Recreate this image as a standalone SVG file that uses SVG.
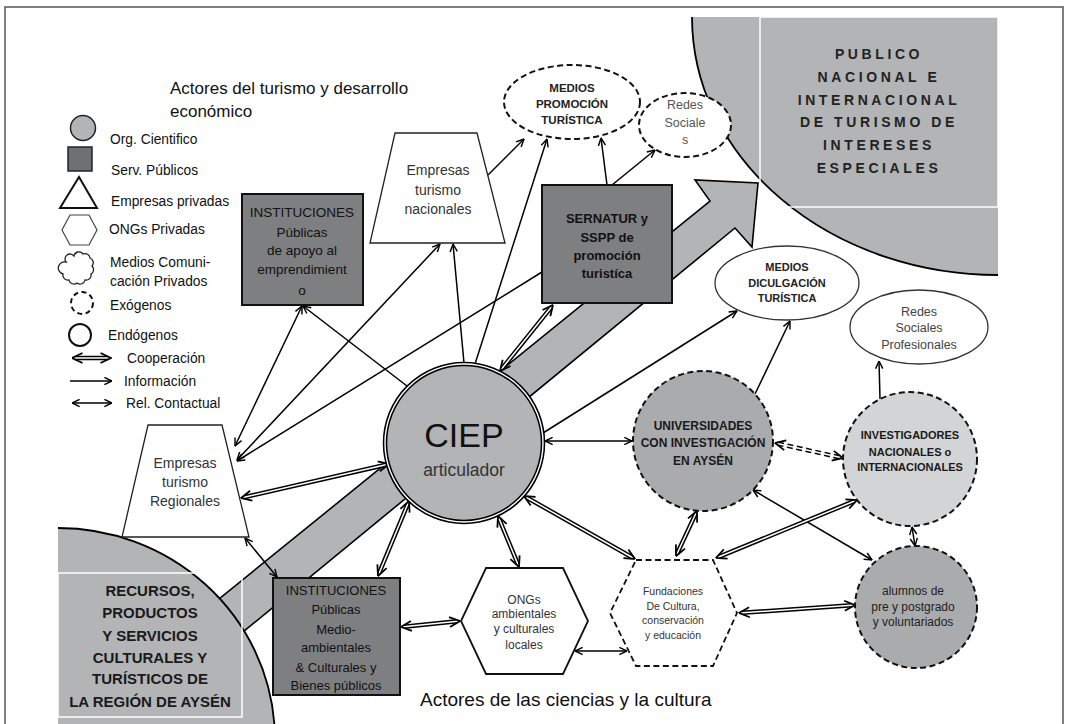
<svg xmlns="http://www.w3.org/2000/svg" width="1065" height="724" viewBox="0 0 1065 724">
<defs>
<style>
text{font-family:"Liberation Sans",Arial,sans-serif;}
.lg{font-size:13.8px;fill:#111}
.ttl{font-size:17px;fill:#111}
.b{font-weight:bold}
.c{text-anchor:middle}
.g1{fill:#b2b4b6}
.dkbox{fill:#7e7f81;stroke:#111;stroke-width:2}
.ln{stroke:#000;stroke-width:1.5;fill:none}
.dk{stroke:#000;stroke-width:4.5;fill:none}
.dw{stroke:#fff;stroke-width:1.5;fill:none}
.dash{stroke-dasharray:6 3.5}
.nt{font-size:14px;fill:#333}
</style>
<marker id="ae" viewBox="0 0 10 10" refX="9.5" refY="5" markerWidth="9" markerHeight="9" markerUnits="userSpaceOnUse" orient="auto"><path d="M1,1 L9.5,5 L1,9" fill="none" stroke="#000" stroke-width="1.6"/></marker>
<marker id="as" viewBox="0 0 10 10" refX="0.5" refY="5" markerWidth="9" markerHeight="9" markerUnits="userSpaceOnUse" orient="auto"><path d="M9,1 L0.5,5 L9,9" fill="none" stroke="#000" stroke-width="1.6"/></marker>
<marker id="de" viewBox="0 0 12 12" refX="11.5" refY="6" markerWidth="12" markerHeight="12" markerUnits="userSpaceOnUse" orient="auto"><path d="M1,1 L11.5,6 L1,11" fill="none" stroke="#000" stroke-width="1.8"/></marker>
<marker id="ds" viewBox="0 0 12 12" refX="0.5" refY="6" markerWidth="12" markerHeight="12" markerUnits="userSpaceOnUse" orient="auto"><path d="M11,1 L0.5,6 L11,11" fill="none" stroke="#000" stroke-width="1.8"/></marker>
</defs>

<rect x="0" y="0" width="1065" height="724" fill="#fff"/>
<path d="M5,730 V7 H1063 V730" fill="none" stroke="#555" stroke-width="1.5"/>

<!-- top-right audience quarter -->
<g id="publico">
<path d="M692,17 A306 258 0 0 0 998,275 L998,17 Z" class="g1"/>
<path d="M692,17 A306 258 0 0 0 998,275" fill="none" stroke="#000" stroke-width="1.8"/>
<rect x="760" y="17" width="238" height="190" fill="none" stroke="#fff" stroke-width="1.5"/>
<g class="b c" font-size="14" letter-spacing="3.6" fill="#222">
<text x="879" y="59">PUBLICO</text>
<text x="879" y="82">NACIONAL E</text>
<text x="879" y="105">INTERNACIONAL</text>
<text x="879" y="127">DE TURISMO DE</text>
<text x="879" y="150">INTERESES</text>
<text x="879" y="173">ESPECIALES</text>
</g>
</g>

<!-- big arrow -->
<g id="flecha">
<polygon points="40,744 710,201 695,180 758,183 752,247 735,228 70,774" class="g1" stroke="#000" stroke-width="1.6"/>
</g>

<!-- bottom-left resources quarter -->
<g id="recursos">
<path d="M58,528 A217 212 0 0 1 274.4,724 L58,724 Z" class="g1"/>
<path d="M58,528 A217 212 0 0 1 274.4,724" fill="none" stroke="#000" stroke-width="1.8"/>
<rect x="58" y="573" width="184" height="144" fill="none" stroke="#fff" stroke-width="1.5"/>
<g class="b c" font-size="15" fill="#1a1a1a">
<text x="150" y="596">RECURSOS,</text>
<text x="150" y="618">PRODUCTOS</text>
<text x="150" y="641">Y SERVICIOS</text>
<text x="150" y="663">CULTURALES Y</text>
<text x="150" y="684">TURÍSTICOS DE</text>
<text x="150" y="707">LA REGIÓN DE AYSÉN</text>
</g>
</g>

<!-- titles -->
<text class="ttl" x="170" y="94">Actores del turismo y desarrollo</text>
<text class="ttl" x="170" y="117">económico</text>
<text x="420" y="706" font-size="19" fill="#111">Actores de las ciencias y la cultura</text>

<!-- legend -->
<g id="leyenda">
<circle cx="83" cy="128" r="12.5" class="g1" stroke="#222" stroke-width="1.5"/>
<rect x="68" y="147" width="24" height="24" fill="#6f7072" stroke="#222" stroke-width="1.5"/>
<polygon points="60,208 97,208 79,177" fill="#fff" stroke="#111" stroke-width="2"/>
<polygon points="70,215 89,215 97,230 89,245 70,245 62,230" fill="#fff" stroke="#444" stroke-width="1.2"/>
<path d="M66,262 a5,5 0 0 1 8,-6 a5,5 0 0 1 9,-2 a5,5 0 0 1 7,4 a5,5 0 0 1 2,8 a5,5 0 0 1 -1,8 a5,5 0 0 1 -6,6 a5,5 0 0 1 -8,3 a5,5 0 0 1 -8,-3 a5,5 0 0 1 -6,-6 a5,5 0 0 1 3,-12 z" fill="#fff" stroke="#222" stroke-width="1.3"/>
<circle cx="82" cy="303" r="11" fill="#fff" stroke="#111" stroke-width="2" stroke-dasharray="5 3.5"/>
<circle cx="80" cy="335" r="11" fill="#fff" stroke="#111" stroke-width="2"/>
<path class="dk" d="M75,358 L108,358"/><path class="dw" d="M72,358 L111,358" marker-start="url(#ds)" marker-end="url(#de)"/>
<path class="ln" d="M70,381 L112,381" marker-end="url(#ae)"/>
<path class="ln" d="M72,403 L112,403" marker-start="url(#as)" marker-end="url(#ae)"/>
<text class="lg" x="110" y="144">Org. Cientifico</text>
<text class="lg" x="111" y="175">Serv. Públicos</text>
<text class="lg" x="111" y="206">Empresas privadas</text>
<text class="lg" x="109" y="234">ONGs Privadas</text>
<text class="lg" x="110" y="267">Medios Comuni-</text>
<text class="lg" x="110" y="286">cación Privados</text>
<text class="lg" x="110" y="310">Exógenos</text>
<text class="lg" x="108" y="340">Endógenos</text>
<text class="lg" x="127" y="363">Cooperación</text>
<text class="lg" x="124" y="386">Información</text>
<text class="lg" x="126" y="408">Rel. Contactual</text>
</g>

<!-- connectors -->
<g id="conectores">
<!-- single information arrows -->
<path class="ln" d="M488,175 L524,139" marker-end="url(#ae)"/>
<path class="ln" d="M475,364 L547,139" marker-end="url(#ae)"/>
<path class="ln" d="M607,185 L601,138" marker-end="url(#ae)"/>
<path class="ln" d="M612,185 L655,150" marker-end="url(#ae)"/>
<path class="ln" d="M464,363 L453,244" marker-end="url(#ae)"/>
<path class="ln" d="M542,272 L237,461" marker-end="url(#ae)"/>
<path class="ln" d="M407,386 L303,306" marker-end="url(#ae)"/>
<path class="ln" d="M543,433 L737,311" marker-end="url(#ae)"/>
<path class="ln" d="M755,394 L790,321" marker-end="url(#ae)"/>
<path class="ln" d="M880,399 L879,361" marker-end="url(#ae)"/>
<!-- contact (double headed single) -->
<path class="ln" d="M237,460 L440,244" marker-start="url(#as)" marker-end="url(#ae)"/>
<path class="ln" d="M235,446 L302,306" marker-start="url(#as)" marker-end="url(#ae)"/>
<path class="ln" d="M245,538 L277,577" marker-start="url(#as)" marker-end="url(#ae)"/>
<path class="ln" d="M575,651 L627,651" marker-start="url(#as)" marker-end="url(#ae)"/>
<path class="ln" d="M545,441 L632,441" marker-start="url(#as)" marker-end="url(#ae)"/>
<path class="ln" d="M753,490 L872,560" marker-start="url(#as)" marker-end="url(#ae)"/>
<path class="ln" d="M912,527 L915,546" marker-start="url(#as)" marker-end="url(#ae)"/>
<!-- cooperation double lines -->
<path class="dk" d="M386.1,464.7 L243.9,497.3"/><path class="dw" d="M389,464 L241,498" marker-start="url(#ds)" marker-end="url(#de)"/>
<path class="dk" d="M501.9,368.7 L551.1,307.3"/><path class="dw" d="M500,371 L553,305" marker-start="url(#ds)" marker-end="url(#de)"/>
<path class="dk" d="M407.9,503.8 L379.1,573.2"/><path class="dw" d="M409,501 L378,576" marker-start="url(#ds)" marker-end="url(#de)"/>
<path class="dk" d="M404,626.7 L457,621.3"/><path class="dw" d="M401,627 L460,621" marker-start="url(#ds)" marker-end="url(#de)"/>
<path class="dk" d="M499.1,518.8 L517.9,564.2"/><path class="dw" d="M498,516 L519,567" marker-start="url(#ds)" marker-end="url(#de)"/>
<path class="dk" d="M526.6,497.5 L632.4,557.5"/><path class="dw" d="M524,496 L635,559" marker-start="url(#ds)" marker-end="url(#de)"/>
<path class="dk" d="M695.7,513.7 L677.3,553.3"/><path class="dw" d="M697,511 L676,556" marker-start="url(#ds)" marker-end="url(#de)"/>
<path class="dk" d="M854.2,501.1 L718.8,556.9"/><path class="dw" d="M857,500 L716,558" marker-start="url(#ds)" marker-end="url(#de)"/>
<path class="dk" d="M742,612.8 L852,605.2"/><path class="dw" d="M739,613 L855,605" marker-start="url(#ds)" marker-end="url(#de)"/>
<path class="dk dash" d="M777.9,443.6 L840.1,457.4"/><path class="dw" d="M775,443 L843,458" marker-start="url(#ds)" marker-end="url(#de)"/>
</g>

<!-- nodes -->
<g id="empresas-nacionales">
<polygon points="395,133 477,133 505,243 370,243" fill="#fff" stroke="#222" stroke-width="1.3"/>
<text class="nt c" x="438" y="175">Empresas</text>
<text class="nt c" x="438" y="195">turismo</text>
<text class="nt c" x="438" y="214">nacionales</text>
</g>

<g id="instituciones-apoyo">
<rect x="242" y="194" width="121" height="111" class="dkbox"/>
<g class="c" font-size="13.5" fill="#111">
<text x="302" y="217">INSTITUCIONES</text>
<text x="302" y="237">Públicas</text>
<text x="302" y="255">de apoyo al</text>
<text x="302" y="274">emprendimient</text>
<text x="302" y="295">o</text>
</g>
</g>

<g id="sernatur">
<rect x="542" y="185" width="130" height="118" class="dkbox"/>
<g class="c b" font-size="13" fill="#111">
<text x="607" y="223">SERNATUR y</text>
<text x="607" y="242">SSPP de</text>
<text x="607" y="260">promoción</text>
<text x="607" y="278">turistíca</text>
</g>
</g>

<g id="medios-promocion">
<ellipse cx="572" cy="102" rx="68" ry="37" fill="#fff" stroke="#111" stroke-width="2" class="dash"/>
<g class="c b" font-size="11.5" fill="#222">
<text x="572" y="92">MEDIOS</text>
<text x="572" y="108">PROMOCIÓN</text>
<text x="572" y="124">TURÍSTICA</text>
</g>
</g>

<g id="redes-sociales">
<ellipse cx="685" cy="125" rx="46" ry="32" fill="#fff" stroke="#111" stroke-width="2" class="dash"/>
<g class="c" font-size="12.5" fill="#555">
<text x="685" y="109">Redes</text>
<text x="685" y="127">Sociale</text>
<text x="685" y="144">s</text>
</g>
</g>

<g id="medios-divulgacion">
<ellipse cx="787" cy="283" rx="72" ry="37" fill="#fff" stroke="#333" stroke-width="1.3"/>
<g class="c b" font-size="11" fill="#222">
<text x="787" y="271">MEDIOS</text>
<text x="787" y="287">DICULGACIÓN</text>
<text x="787" y="302">TURÍSTICA</text>
</g>
</g>

<g id="redes-profesionales">
<ellipse cx="919" cy="327" rx="69" ry="37" fill="#fff" stroke="#333" stroke-width="1.3"/>
<g class="c" font-size="12.5" fill="#444">
<text x="919" y="316">Redes</text>
<text x="919" y="332">Sociales</text>
<text x="919" y="349">Profesionales</text>
</g>
</g>

<g id="ciep">
<circle cx="464" cy="443" r="79" class="g1" stroke="#000" stroke-width="4.5"/>
<circle cx="464" cy="443" r="79" fill="none" stroke="#fff" stroke-width="1.4"/>
<text x="464" y="447" class="c" font-size="34" fill="#111">CIEP</text>
<text x="464" y="476" class="c" font-size="17.5" fill="#333">articulador</text>
</g>

<g id="universidades">
<circle cx="703" cy="441" r="70" fill="#a9abad" stroke="#111" stroke-width="2" class="dash"/>
<g class="c b" font-size="12" fill="#1a1a1a">
<text x="703" y="430">UNIVERSIDADES</text>
<text x="703" y="447">CON INVESTIGACIÓN</text>
<text x="703" y="465">EN AYSÉN</text>
</g>
</g>

<g id="investigadores">
<circle cx="910" cy="459" r="67" fill="#d3d4d5" stroke="#111" stroke-width="2" class="dash"/>
<g class="c b" font-size="11" fill="#1a1a1a">
<text x="910" y="439">INVESTIGADORES</text>
<text x="910" y="456">NACIONALES o</text>
<text x="910" y="471">INTERNACIONALES</text>
</g>
</g>

<g id="alumnos">
<circle cx="916" cy="607" r="61" fill="#a9abad" stroke="#111" stroke-width="2" class="dash"/>
<g class="c" font-size="12" fill="#222">
<text x="913" y="595">alumnos de</text>
<text x="913" y="611">pre y postgrado</text>
<text x="913" y="626">y voluntariados</text>
</g>
</g>

<g id="fundaciones">
<polygon points="636,560 713,560 737,613 713,666 636,666 610,613" fill="#fff" stroke="#111" stroke-width="1.8" class="dash"/>
<g class="c" font-size="10.5" fill="#333">
<text x="673" y="595">Fundaciones</text>
<text x="673" y="610">De Cultura,</text>
<text x="673" y="624">conservación</text>
<text x="673" y="639">y educación</text>
</g>
</g>

<g id="ongs">
<polygon points="486,568 563,568 588,621 563,674 486,674 461,621" fill="#fff" stroke="#111" stroke-width="1.8"/>
<g class="c" font-size="12" fill="#333">
<text x="524" y="604">ONGs</text>
<text x="524" y="618">ambientales</text>
<text x="524" y="633">y culturales</text>
<text x="524" y="649">locales</text>
</g>
</g>

<g id="empresas-regionales">
<polygon points="148,425 222,425 249,537 122,537" fill="#fff" stroke="#222" stroke-width="1.3"/>
<text class="nt c" x="185" y="468">Empresas</text>
<text class="nt c" x="185" y="487">turismo</text>
<text class="nt c" x="185" y="506">Regionales</text>
</g>

<g id="instituciones-medioambientales">
<rect x="273" y="578" width="127" height="117" class="dkbox"/>
<g class="c" font-size="13" fill="#111">
<text x="336" y="595">INSTITUCIONES</text>
<text x="336" y="614">Públicas</text>
<text x="336" y="634">Medio-</text>
<text x="336" y="652">ambientales</text>
<text x="336" y="672">&amp; Culturales y</text>
<text x="336" y="690">Bienes públicos</text>
</g>
</g>
</svg>
